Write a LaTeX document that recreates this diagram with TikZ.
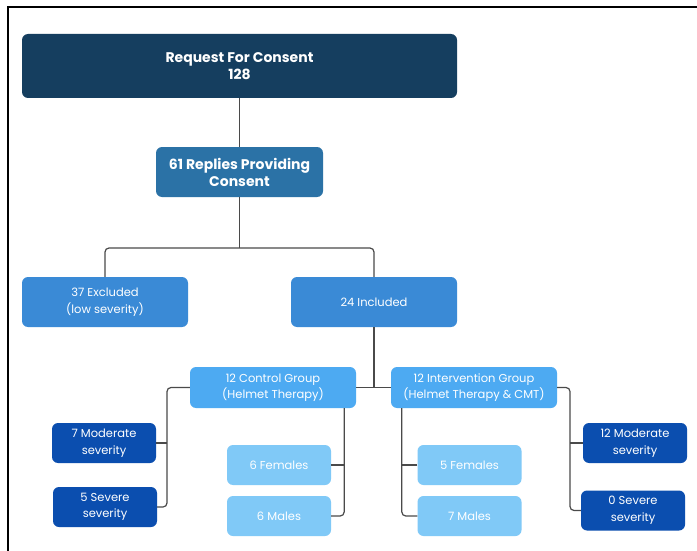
\documentclass[tikz,border=0pt]{standalone}
\usepackage{fontspec}
\setmainfont{Poppins}
\usetikzlibrary{calc}
\definecolor{navy}{HTML}{153E5F}
\definecolor{steel}{HTML}{2B72A6}
\definecolor{midblue}{HTML}{3A8AD6}
\definecolor{grpblue}{HTML}{4DAAF2}
\definecolor{deepblue}{HTML}{0B4EAF}
\definecolor{paleblue}{HTML}{80C9F7}
\definecolor{linegray}{HTML}{4A4A4A}
\tikzset{
  box/.style={rectangle, rounded corners=6pt, draw=none, text=white, align=center, inner sep=0pt},
  bigtxt/.style={font=\fontsize{14}{17}\selectfont\bfseries},
  smalltxt/.style={font=\fontsize{11.5}{16.5}\selectfont},
  conn/.style={draw=linegray, line width=1.2pt, rounded corners=4pt},
}
\begin{document}
\begin{tikzpicture}[x=1pt,y=-1pt]
\useasboundingbox (0,0) rectangle (697,551);
\fill[white] (0,0) rectangle (697,551);
\draw[line width=2pt, black] (7.5,551) -- (7.5,7) -- (697,7);

\node[box, bigtxt, fill=navy, minimum width=435pt, minimum height=64pt] (req) at (239.5,66) {Request For Consent\\128};
\node[box, bigtxt, fill=steel, minimum width=167pt, minimum height=50pt] (rep) at (239.5,172) {61 Replies Providing\\Consent};
\node[box, smalltxt, fill=midblue, minimum width=166pt, minimum height=50pt] (exc) at (105,302) {37 Excluded\\(low severity)};
\node[box, smalltxt, fill=midblue, minimum width=166pt, minimum height=50pt] (inc) at (374,302) {24 Included};
\node[box, smalltxt, fill=grpblue, minimum width=166pt, minimum height=41pt] (ctl) at (273,387.5) {12 Control Group\\(Helmet Therapy)};
\node[box, smalltxt, fill=grpblue, minimum width=166pt, minimum height=41pt] (inv) at (474,387.5) {12 Intervention Group\\(Helmet Therapy \& CMT)};
\node[box, smalltxt, fill=deepblue, minimum width=104pt, minimum height=40pt] (mod7) at (104,443) {7 Moderate\\severity};
\node[box, smalltxt, fill=deepblue, minimum width=104pt, minimum height=40pt] (sev5) at (105,507) {5 Severe\\severity};
\node[box, smalltxt, fill=paleblue, minimum width=104pt, minimum height=40pt] (f6) at (279,465) {6 Females};
\node[box, smalltxt, fill=paleblue, minimum width=104pt, minimum height=40pt] (m6) at (279,516) {6 Males};
\node[box, smalltxt, fill=paleblue, minimum width=104pt, minimum height=40pt] (f5) at (469.5,465) {5 Females};
\node[box, smalltxt, fill=paleblue, minimum width=104pt, minimum height=40pt] (m7) at (469.5,516) {7 Males};
\node[box, smalltxt, fill=deepblue, minimum width=104pt, minimum height=40pt] (mod12) at (635,443) {12 Moderate\\severity};
\node[box, smalltxt, fill=deepblue, minimum width=104pt, minimum height=40pt] (sev0) at (633,510.5) {0 Severe\\severity};

\coordinate (j1) at (239.5,248);
\coordinate (j2) at (374,387.5);
\coordinate (cl) at (167,387.5);
\coordinate (cr) at ($(ctl.south east)+(-12,0)$);
\coordinate (il) at ($(inv.south west)+(11,0)$);
\coordinate (ir) at (570,387.5);

\draw[conn] (req.south) -- (rep.north);
\draw[conn] (rep.south) -- (j1);
\draw[conn] (exc.north) |- (j1) -| (inc.north);
\draw[conn] (inc.south) -- (j2);
\draw[conn] (ctl.east) -- (inv.west);
\draw[conn] (ctl.west) -- (cl) |- (sev5.east);
\draw[conn] (mod7.east) -- (mod7.east -| cl);
\draw[conn] (cr) |- (m6.east);
\draw[conn] (f6.east) -- (f6.east -| cr);
\draw[conn] (il) |- (m7.west);
\draw[conn] (f5.west) -- (f5.west -| il);
\draw[conn] (inv.east) -- (ir) |- (sev0.west);
\draw[conn] (mod12.west) -- (mod12.west -| ir);
\end{tikzpicture}
\end{document}
